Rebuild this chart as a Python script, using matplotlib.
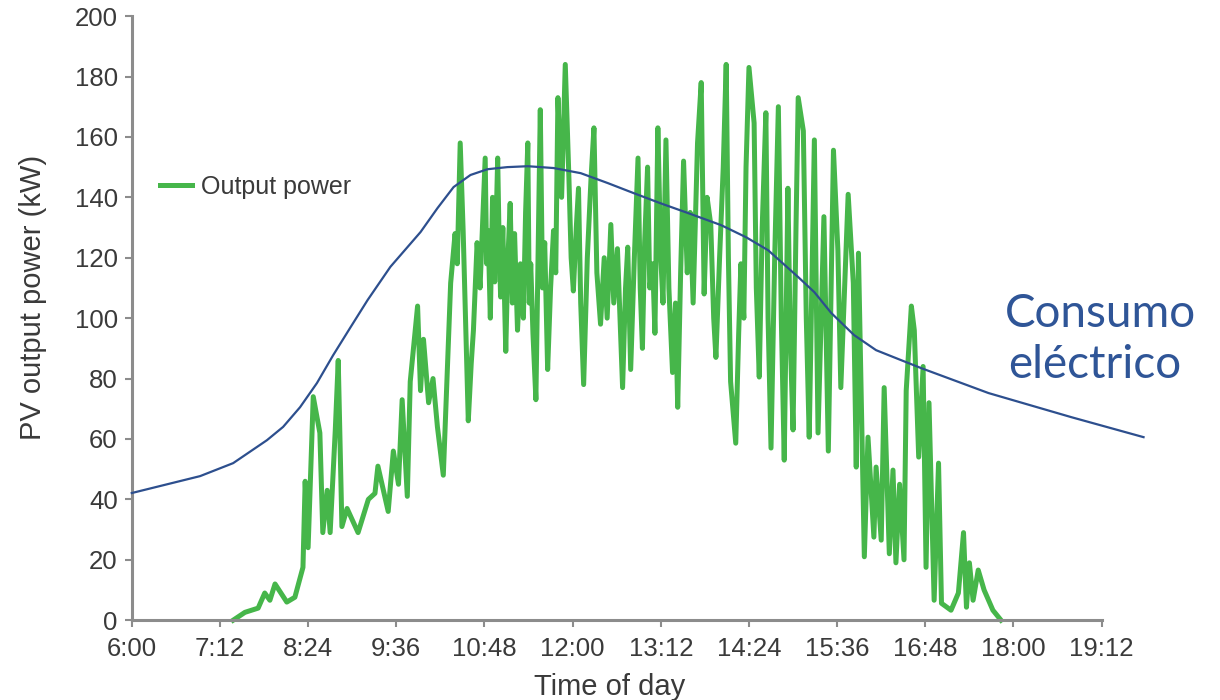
import matplotlib.pyplot as plt

# PV output power (time in hours, power in kW)
pv_time = [7.38, 7.54, 7.72, 7.81, 7.88, 7.95, 8.11, 8.22, 8.33, 8.36, 8.40, 8.47, 8.56, 8.60,
           8.66, 8.70, 8.77, 8.81, 8.86, 8.93, 9.08, 9.22, 9.31, 9.35, 9.49, 9.56, 9.63, 9.68,
           9.75, 9.79, 9.89, 9.93, 9.97, 10.04, 10.10, 10.16, 10.24, 10.34, 10.40, 10.43, 10.47,
           10.51, 10.58, 10.62, 10.65, 10.70, 10.74,
           10.81, 10.83, 10.85, 10.88, 10.91, 10.94, 10.98, 11.00, 11.02, 11.05, 11.09, 11.12,
           11.15, 11.18, 11.21, 11.25, 11.29, 11.33, 11.36, 11.39, 11.41, 11.43, 11.46, 11.50,
           11.53, 11.56, 11.59, 11.62, 11.66, 11.70, 11.74, 11.77, 11.80, 11.85, 11.90, 11.95,
           11.98, 12.01, 12.05, 12.08, 12.11, 12.15, 12.20, 12.25, 12.29, 12.33, 12.38, 12.43,
           12.47, 12.52, 12.56, 12.61, 12.68, 12.72, 12.75, 12.79, 12.84, 12.89, 12.92, 12.95,
           12.98, 13.02, 13.05, 13.09, 13.12, 13.16, 13.20, 13.23, 13.27, 13.31, 13.36, 13.40,
           13.43, 13.47, 13.51, 13.56, 13.60, 13.64, 13.70, 13.75, 13.79, 13.83, 13.88, 13.92,
           13.95, 14.00, 14.05, 14.09, 14.12, 14.15, 14.22, 14.26, 14.29, 14.33, 14.36, 14.40,
           14.47, 14.50, 14.54, 14.58, 14.63, 14.66, 14.70, 14.75, 14.80, 14.84, 14.88, 14.93,
           14.96, 15.00, 15.04, 15.07, 15.14, 15.18, 15.22, 15.29,
           15.34, 15.42, 15.48, 15.55, 15.61, 15.65, 15.75, 15.82, 15.86,
           15.89, 15.97, 16.02, 16.10, 16.13, 16.20, 16.24, 16.31, 16.36, 16.40, 16.45, 16.51,
           16.54, 16.61, 16.65, 16.71, 16.77, 16.81, 16.85, 16.92, 16.98, 17.02, 17.15, 17.25,
           17.32, 17.36, 17.40, 17.45, 17.52, 17.60, 17.72, 17.83]
pv_kw = [0, 2.6, 4, 9, 6.6, 12, 6, 7.6, 17.5, 46, 24, 74, 62, 29,
         43, 29, 63, 86, 31, 37, 29, 40, 42, 51, 36, 56, 45, 73,
         41, 79, 104, 76, 93, 72, 80, 64, 48, 111.6, 128, 118, 158,
         129, 66, 85, 96, 125, 110,
         153, 118, 129, 100, 140, 112, 153, 125, 107, 130, 89, 120,
         138, 105, 128, 96, 118, 100, 135, 158, 105, 118, 95, 73,
         120, 169, 110, 125, 83, 110, 129, 115, 173, 140, 184, 146,
         120, 109, 130, 143, 105, 78, 120, 146, 163, 115, 98, 120,
         100, 131, 105, 123, 77, 110, 123.5, 83, 120, 153, 110, 90,
         125, 150, 110, 118, 95, 163, 120, 105, 159, 110, 82, 105,
         70.5, 115, 152, 115, 135, 105, 158, 178, 108, 140, 131, 100,
         87, 120, 150, 184, 120, 79, 58.6, 95, 118, 100, 150, 183,
         164.6, 110, 80.5, 130, 168, 100, 57, 120, 170, 100, 53, 143,
         95, 63, 130, 173, 162, 100, 60.6, 159,
         62, 133.6, 56, 155.6, 122.5, 77, 141, 111.6, 50.7,
         121.5, 21, 60.6, 27.5, 50.7, 26.5, 77, 22, 49.7, 19, 45, 20,
         76, 104, 96, 54, 84, 17.5, 72, 6.6, 52, 5.6, 3.3, 9,
         29, 4.3, 19, 6.6, 16.6, 10, 3.3, 0]

# electricity consumption curve drawn over it
cons_time = [6.0, 6.93, 7.38, 7.84, 8.06, 8.29, 8.52, 8.74, 8.97, 9.21, 9.52, 9.93, 10.16,
             10.38, 10.61, 10.84, 11.11, 11.39, 11.74, 12.11, 12.48, 12.83, 13.2, 13.57,
             14.02, 14.36, 14.66, 15.07, 15.29, 15.52, 15.83, 16.13, 16.47, 16.75, 17.66,
             18.79, 19.77]
cons_kw = [42.1, 47.7, 52, 59.6, 64, 70.5, 78.5, 87.7, 96.7, 106, 117, 128.5, 136.4,
           143.4, 147.4, 149.3, 150, 150.3, 149.7, 148, 144.7, 141.4, 138, 134.8,
           130.8, 126.8, 122.5, 113.6, 108.6, 101.7, 94.4, 89.4, 86.1, 83.4, 75.2,
           67.2, 60.6]

tick_hours = [6.0, 7.2, 8.4, 9.6, 10.8, 12.0, 13.2, 14.4, 15.6, 16.8, 18.0, 19.2]
tick_labels = ['6:00', '7:12', '8:24', '9:36', '10:48', '12:00', '13:12',
               '14:24', '15:36', '16:48', '18:00', '19:12']

plt.rcParams['font.family'] = ['Liberation Sans', 'DejaVu Sans']
text_grey = '#3a3a3a'

fig = plt.figure(figsize=(12.2, 7), dpi=100)
ax = fig.add_axes([0.108, 0.114, 0.795, 0.863])

ax.plot(pv_time, pv_kw, color='#46b64a', linewidth=3.6, label='Output power',
        solid_joinstyle='round', clip_on=False, zorder=2)
ax.plot(cons_time, cons_kw, color='#2d4f8e', linewidth=1.6, clip_on=False, zorder=3)

ax.set_xlim(6.0, 19.2)
ax.set_ylim(0, 200)
ax.set_xticks(tick_hours)
ax.set_xticklabels(tick_labels)
ax.set_yticks(range(0, 201, 20))

for side in ['top', 'right']:
    ax.spines[side].set_visible(False)
for side in ['left', 'bottom']:
    ax.spines[side].set_color('#8c8c8c')
    ax.spines[side].set_linewidth(2.2)

ax.tick_params(axis='both', colors='#8c8c8c', length=5, width=1.5,
               labelsize=18.5, labelcolor=text_grey)
ax.tick_params(axis='x', pad=7)
ax.tick_params(axis='y', pad=5)

ax.set_xlabel('Time of day', fontsize=21, color=text_grey)
ax.xaxis.set_label_coords(0.493, -0.088)
ax.set_ylabel('PV output power (kW)', fontsize=21, color=text_grey)
ax.yaxis.set_label_coords(-0.087, 0.535)

ax.legend(loc='center left', bbox_to_anchor=(0.029, 0.717), frameon=False,
          fontsize=18, borderpad=0, borderaxespad=0, handlelength=1.3,
          handletextpad=0.35, labelcolor=text_grey)

# annotation for the consumption curve
fig.text(0.824, 0.533, 'Consumo', fontsize=33, color='#2f5597',
         family=['Lato', 'DejaVu Sans'], ha='left', va='baseline')
fig.text(0.826, 0.460, 'eléctrico', fontsize=33, color='#2f5597',
         family=['Lato', 'DejaVu Sans'], ha='left', va='baseline')

fig.savefig('out.png', dpi=100)
